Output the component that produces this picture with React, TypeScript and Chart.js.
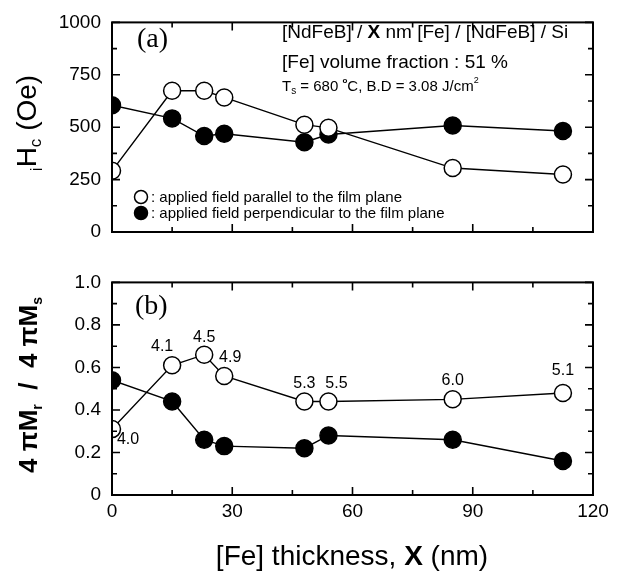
import React, { useEffect, useRef } from 'react';
import { Chart, registerables } from 'chart.js';

Chart.register(...registerables);

// ---- data ----
const thickness = [0, 15, 23, 28, 48, 54, 85, 112.5];
const hcParallel = [292, 674, 674, 642, 512, 497, 305, 274];
const hcPerpendicular = [605, 542, 458, 469, 428, 465, 508, 482];
const mrParallel = [0.31, 0.61, 0.66, 0.56, 0.44, 0.44, 0.45, 0.48];
const mrPerpendicular = [0.54, 0.44, 0.26, 0.23, 0.22, 0.28, 0.26, 0.16];
const ratioLabels = ['4.0', '4.1', '4.5', '4.9', '5.3', '5.5', '6.0', '5.1'];
const yTicksA = ['0', '250', '500', '750', '1000'];
const yTicksB = ['0', '0.2', '0.4', '0.6', '0.8', '1.0'];
const legendLabels = [
  ': applied field parallel to the film plane',
  ': applied field perpendicular to the film plane',
];

// ---- styles ----
const SANS = '"Liberation Sans", Arial, Helvetica, sans-serif';
const SERIF = '"Liberation Serif", "Times New Roman", serif';
const labelOffsets: [number, number][] = [
  [16, 10], [-10, -19], [0, -17], [6, -18], [0, -18], [8, -18], [0, -19], [0, -22],
];

type Part = { t: string; font: string; dy?: number };
function drawParts(ctx: CanvasRenderingContext2D, parts: Part[], x: number, y: number, align: 'left' | 'center') {
  ctx.textBaseline = 'middle';
  ctx.textAlign = 'left';
  let w = 0;
  for (const p of parts) { ctx.font = p.font; w += ctx.measureText(p.t).width; }
  let cx = align === 'center' ? x - w / 2 : x;
  for (const p of parts) {
    ctx.font = p.font;
    ctx.fillText(p.t, cx, y + (p.dy || 0));
    cx += ctx.measureText(p.t).width;
  }
}

function drawFrame(chart: any, yMax: number) {
  const ctx: CanvasRenderingContext2D = chart.ctx;
  const { left, right, top, bottom } = chart.chartArea;
  const xs = chart.scales.x;
  const ys = chart.scales.y;
  ctx.save();
  ctx.strokeStyle = '#000';
  ctx.lineWidth = 2;
  ctx.strokeRect(left, top, right - left, bottom - top);
  ctx.lineWidth = 1.6;
  ctx.beginPath();
  for (let i = 0; i <= 8; i++) {
    const v = i * 15;
    const px = xs.getPixelForValue(v);
    const len = i % 2 === 0 ? 8 : 5;
    ctx.moveTo(px, bottom); ctx.lineTo(px, bottom - len);
    ctx.moveTo(px, top); ctx.lineTo(px, top + len);
  }
  const n = yMax === 1 ? 10 : 8;
  for (let i = 0; i <= n; i++) {
    const v = (yMax / n) * i;
    const py = ys.getPixelForValue(v);
    const len = i % 2 === 0 ? 8 : 5;
    ctx.moveTo(left, py); ctx.lineTo(left + len, py);
    ctx.moveTo(right, py); ctx.lineTo(right - len, py);
  }
  ctx.stroke();
  ctx.restore();
}

const topPlugin = {
  id: 'topDecor',
  afterDraw(chart: any) {
    const ctx: CanvasRenderingContext2D = chart.ctx;
    drawFrame(chart, 1000);
    ctx.save();
    ctx.fillStyle = '#000';
    // panel label
    drawParts(ctx, [{ t: '(a)', font: `28px ${SERIF}` }], 137, 40, 'left');
    // annotation
    drawParts(ctx, [
      { t: '[NdFeB] / ', font: `19px ${SANS}` },
      { t: 'X', font: `bold 19px ${SANS}` },
      { t: ' nm [Fe] / [NdFeB] / Si', font: `19px ${SANS}` },
    ], 282, 33, 'left');
    drawParts(ctx, [{ t: '[Fe] volume fraction : 51 %', font: `19px ${SANS}` }], 282, 63, 'left');
    drawParts(ctx, [
      { t: 'T', font: `15px ${SANS}` },
      { t: 's', font: `10px ${SANS}`, dy: 4 },
      { t: ' = 680 ', font: `15px ${SANS}` },
      { t: 'o', font: `bold 8px ${SANS}`, dy: -6 },
      { t: 'C, B.D = 3.08 J/cm', font: `15px ${SANS}` },
      { t: '2', font: `9px ${SANS}`, dy: -6 },
    ], 282, 87, 'left');
    // legend
    const rows = [197, 213];
    rows.forEach((ry, i) => {
      ctx.beginPath();
      ctx.arc(141, ry, 6.5, 0, Math.PI * 2);
      ctx.fillStyle = i === 0 ? '#fff' : '#000';
      ctx.fill();
      ctx.lineWidth = 1.5;
      ctx.strokeStyle = '#000';
      ctx.stroke();
      ctx.fillStyle = '#000';
      drawParts(ctx, [{ t: legendLabels[i], font: `15px ${SANS}` }], 151, ry + 1, 'left');
    });
    // y title
    ctx.translate(28, 123);
    ctx.rotate(-Math.PI / 2);
    drawParts(ctx, [
      { t: 'i', font: `17px ${SANS}`, dy: 9 },
      { t: 'H', font: `28px ${SANS}` },
      { t: 'c', font: `17px ${SANS}`, dy: 8 },
      { t: ' (Oe)', font: `28px ${SANS}` },
    ], 0, 0, 'center');
    ctx.restore();
  },
};

const bottomPlugin = {
  id: 'bottomDecor',
  afterDraw(chart: any) {
    const ctx: CanvasRenderingContext2D = chart.ctx;
    drawFrame(chart, 1);
    ctx.save();
    ctx.fillStyle = '#000';
    drawParts(ctx, [{ t: '(b)', font: `28px ${SERIF}` }], 135, 47, 'left');
    // ratio labels near open circles
    const meta = chart.getDatasetMeta(2);
    ctx.textAlign = 'center';
    ctx.textBaseline = 'middle';
    ctx.font = `16px ${SANS}`;
    meta.data.forEach((pt: any, i: number) => {
      const [dx, dy] = labelOffsets[i];
      ctx.fillText(ratioLabels[i], pt.x + dx, pt.y + dy);
    });
    // x title
    drawParts(ctx, [
      { t: '[Fe] thickness, ', font: `28px ${SANS}` },
      { t: 'X', font: `bold 28px ${SANS}` },
      { t: ' (nm)', font: `28px ${SANS}` },
    ], 352, 297, 'center');
    // y title
    ctx.translate(30, 125);
    ctx.rotate(-Math.PI / 2);
    const f = `bold 26px ${SANS}`;
    const fs = `bold 14px ${SANS}`;
    drawParts(ctx, [
      { t: '4 ', font: f },
      { t: 'π', font: f },
      { t: 'M', font: f },
      { t: 'r', font: fs, dy: 8 },
      { t: '  /  4 ', font: f },
      { t: 'π', font: f },
      { t: 'M', font: f },
      { t: 's', font: fs, dy: 8 },
    ], 0, 0, 'center');
    ctx.restore();
  },
};

function makeConfig(panel: 'a' | 'b'): any {
  const isA = panel === 'a';
  const par = isA ? hcParallel : mrParallel;
  const perp = isA ? hcPerpendicular : mrPerpendicular;
  const pts = (vals: number[]) => thickness.map((x, i) => ({ x, y: vals[i] }));
  const lineDs = (vals: number[]) => ({
    data: pts(vals), borderColor: '#000', borderWidth: 1.4, pointRadius: 0,
    showLine: true, fill: false, order: 3, tension: 0,
  });
  const pointDs = (vals: number[], fillCol: string) => ({
    data: pts(vals), showLine: false, pointRadius: 8.5, pointHoverRadius: 8.5,
    pointBackgroundColor: fillCol, pointBorderColor: '#000', pointBorderWidth: 1.5, order: 1,
  });
  const yLabels = isA ? yTicksA : yTicksB;
  return {
    type: 'line',
    data: {
      datasets: [
        lineDs(par), lineDs(perp),
        pointDs(par, '#fff'), pointDs(perp, '#000'),
      ],
    },
    options: {
      responsive: false,
      animation: false,
      events: [],
      layout: { padding: { left: 0, right: 39, top: isA ? 14 : 15, bottom: 0 } },
      plugins: { legend: { display: false }, tooltip: { enabled: false } },
      scales: {
        x: {
          type: 'linear', min: 0, max: 120,
          grid: { display: false, drawTicks: false },
          border: { display: false },
          ticks: {
            display: !isA, stepSize: 30, color: '#000', padding: 5,
            font: { family: SANS, size: 19 }, maxRotation: 0, autoSkip: false,
          },
          afterFit: (s: any) => { s.height = isA ? 28 : 76; },
        },
        y: {
          type: 'linear', min: 0, max: isA ? 1000 : 1,
          grid: { display: false, drawTicks: false },
          border: { display: false },
          ticks: {
            stepSize: isA ? 250 : 0.2, color: '#000', padding: 11,
            font: { family: SANS, size: 19 },
            callback: (_v: any, i: number) => yLabels[i],
          },
          afterFit: (s: any) => { s.width = 112; },
        },
      },
    },
    plugins: [isA ? topPlugin : bottomPlugin],
  };
}

export default function App() {
  const topRef = useRef<HTMLCanvasElement>(null);
  const botRef = useRef<HTMLCanvasElement>(null);
  useEffect(() => {
    const a = new Chart(topRef.current as HTMLCanvasElement, makeConfig('a'));
    const b = new Chart(botRef.current as HTMLCanvasElement, makeConfig('b'));
    return () => { a.destroy(); b.destroy(); };
  }, []);
  return (
    <div style={{ position: 'absolute', left: 0, top: 0, width: 632, height: 571, background: '#fff' }}>
      <canvas ref={topRef} width={632} height={260} style={{ position: 'absolute', left: 0, top: 0, width: 632, height: 260 }} />
      <canvas ref={botRef} width={632} height={311} style={{ position: 'absolute', left: 0, top: 260, width: 632, height: 311 }} />
    </div>
  );
}
